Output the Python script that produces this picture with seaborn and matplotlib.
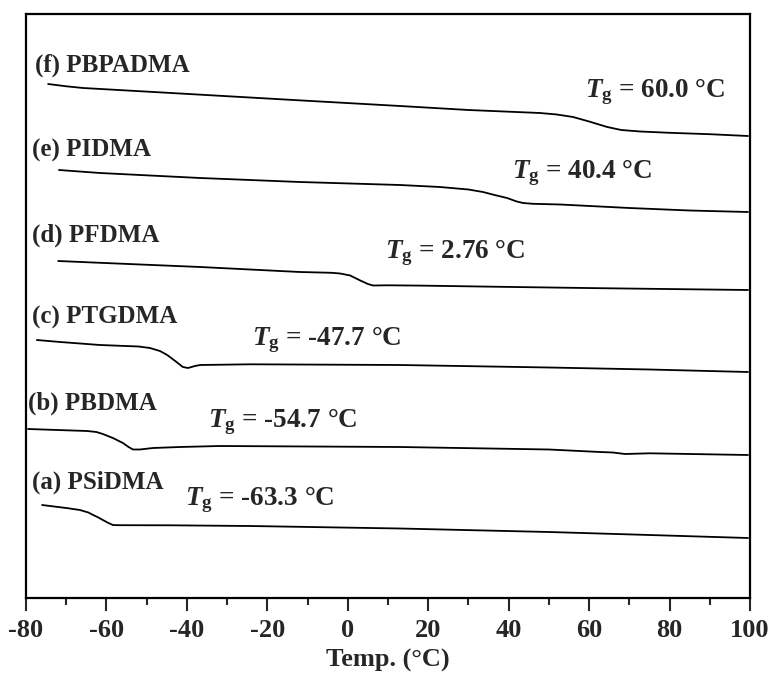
import matplotlib
matplotlib.use("Agg")
import matplotlib.pyplot as plt
from matplotlib.ticker import MultipleLocator
import seaborn as sns
import pandas as pd

# ---- data (heat flow in arbitrary units) ----
names = ["(a) PSiDMA", "(b) PBDMA", "(c) PTGDMA", "(d) PFDMA", "(e) PIDMA", "(f) PBPADMA"]
tg_labels = ["-63.3", "-54.7", "-47.7", "2.76", "40.4", "60.0"]

temp_a = [-76, -70, -66.6, -64.5, -63.3, -62.0, -60.9, -59.5, -58.4, -57, -44.2, -24.3, 13, 50, 75, 99.5]
flow_a = [9.3, 9.0, 8.8, 8.55, 8.3, 8.05, 7.8, 7.5, 7.3, 7.28, 7.27, 7.2, 6.95, 6.6, 6.3, 6.0]

temp_b = [-79.5, -64.8, -62.5, -60.9, -58.4, -55.9, -54.5, -53.4, -51.7, -48.4, -41.7, -31.8, 13, 50, 62.7, 65.9, 68.9, 75.1, 99.5]
flow_b = [16.9, 16.7, 16.6, 16.4, 16.0, 15.5, 15.1, 14.85, 14.85, 15.0, 15.1, 15.2, 15.1, 14.85, 14.6, 14.55, 14.4, 14.47, 14.3]

temp_c = [-77.3, -71.5, -61.6, -52, -49.2, -46.7, -44.9, -42.9, -41, -39.7, -38, -36.7, -24.3, 13, 50, 75, 99.5]
flow_c = [25.8, 25.6, 25.3, 25.15, 25.0, 24.7, 24.3, 23.7, 23.1, 23.0, 23.2, 23.3, 23.37, 23.3, 23.05, 22.85, 22.6]

temp_d = [-72, -61.6, -36.7, -11.9, -4, -1.9, 0.6, 3.1, 5, 6.3, 10, 18, 37.8, 62.7, 99.5]
flow_d = [33.7, 33.52, 33.1, 32.6, 32.52, 32.45, 32.25, 31.75, 31.4, 31.25, 31.27, 31.24, 31.12, 30.98, 30.8]

temp_e = [-71.8, -61.6, -36.7, -11.9, 13, 22.9, 30, 33.6, 36.5, 39.6, 42, 43.6, 46, 52.8, 70, 85, 99.5]
flow_e = [42.8, 42.5, 42.0, 41.6, 41.3, 41.1, 40.85, 40.6, 40.3, 40.0, 39.65, 39.5, 39.42, 39.35, 39.0, 38.75, 38.6]

temp_f = [-74.5, -70, -65.8, -50, -30, -10, 13, 30, 47.8, 52, 56, 60, 64.5, 68, 72.7, 80, 90, 99.5]
flow_f = [51.4, 51.17, 51.0, 50.64, 50.18, 49.72, 49.2, 48.8, 48.5, 48.35, 48.1, 47.65, 47.1, 46.8, 46.65, 46.52, 46.38, 46.2]

temps = [temp_a, temp_b, temp_c, temp_d, temp_e, temp_f]
flows = [flow_a, flow_b, flow_c, flow_d, flow_e, flow_f]

# label anchor positions (data coords)
name_pos = [(-78.5, 11.6), (-79.5, 19.5), (-78.5, 28.1), (-78.5, 36.3), (-78.5, 44.8), (-77.8, 53.3)]
tg_pos = [(-40.5, 9.8), (-34.75, 17.6), (-23.8, 25.8), (9.3, 34.5), (40.8, 42.5), (59.0, 50.6)]

rows = []
for n, t, f in zip(names, temps, flows):
    for ti, fi in zip(t, f):
        rows.append({"sample": n, "temp": ti, "flow": fi})
df = pd.DataFrame(rows)

sns.set_style("ticks")
plt.rcParams["font.family"] = ["Liberation Serif", "DejaVu Serif"]
plt.rcParams["font.weight"] = "bold"
plt.rcParams["axes.unicode_minus"] = False
plt.rcParams["mathtext.fontset"] = "custom"
plt.rcParams["mathtext.rm"] = "Liberation Serif:bold"
plt.rcParams["mathtext.it"] = "Liberation Serif:italic:bold"
plt.rcParams["mathtext.bf"] = "Liberation Serif:bold"

fig = plt.figure(figsize=(7.72, 6.77), dpi=100)
ax = fig.add_axes([26 / 772, 1 - 598 / 677, (750 - 26) / 772, (598 - 14) / 677])

sns.lineplot(data=df, x="temp", y="flow", hue="sample", units="sample", estimator=None,
             palette=["black"] * 6, legend=False, linewidth=1.3, ax=ax, sort=True)

for n, (x, y) in zip(names, name_pos):
    ax.text(x, y, n, ha="left", va="center", fontsize=18, fontweight="bold")
for lab, (x, y) in zip(tg_labels, tg_pos):
    ax.text(x, y, r"$T_{\mathrm{g}}$" + f" = {lab} °C", ha="left", va="center",
            fontsize=19.5, fontweight="bold")

ax.set_xlim(-80, 100)
ax.set_ylim(0, 58.4)
ax.xaxis.set_major_locator(MultipleLocator(20))
ax.xaxis.set_minor_locator(MultipleLocator(10))
ax.set_yticks([])
ax.set_ylabel("")
ax.set_xlabel("Temp. (°C)", fontsize=19, fontweight="bold", labelpad=5)
ax.tick_params(axis="x", which="major", direction="out", length=9, width=1.5, labelsize=19, pad=6)
ax.tick_params(axis="x", which="minor", direction="out", length=5, width=1.5)
for lbl in ax.get_xticklabels():
    lbl.set_fontweight("bold")
for s in ax.spines.values():
    s.set_visible(True)
    s.set_linewidth(1.6)
    s.set_color("black")

fig.savefig("out.png", dpi=100)
